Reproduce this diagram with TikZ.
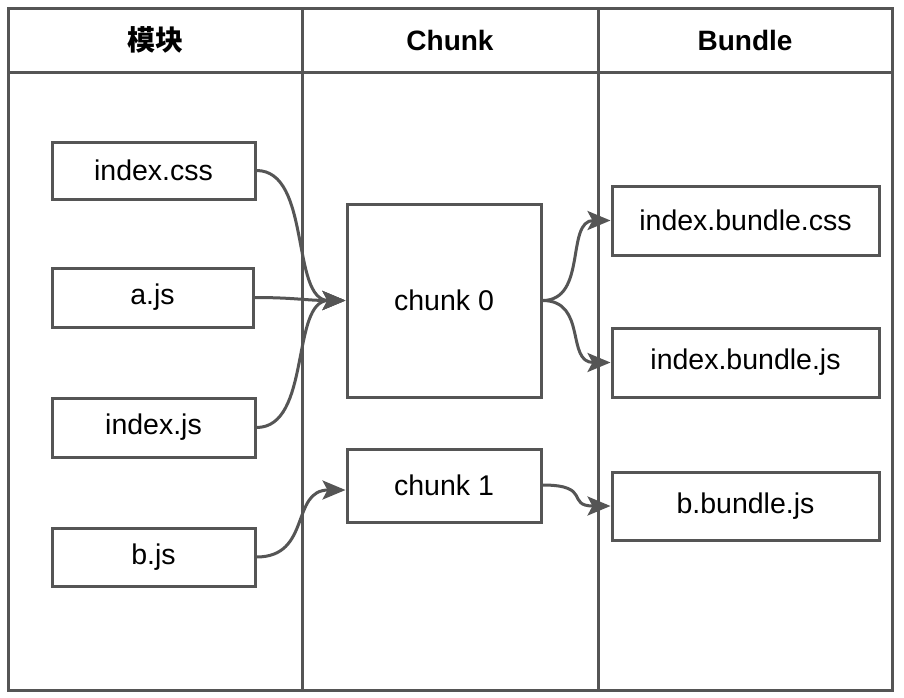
\documentclass[tikz,border=0pt]{standalone}
\usepackage{fontspec}
\setmainfont{Liberation Sans}
\newfontfamily\cjk{Noto Sans CJK SC}
\usetikzlibrary{arrows.meta}
\definecolor{ln}{HTML}{555555}
\begin{document}
\begin{tikzpicture}[x=1pt,y=-1pt,
  every node/.style={font=\fontsize{28.5}{33}\selectfont},
  box/.style={draw=ln,line width=3pt,fill=white,inner sep=0pt,minimum width=#1},
  box/.default=203pt,
  hdr/.style={font=\fontsize{28}{32}\selectfont\bfseries},
  conn/.style={draw=ln,line width=3pt,-{Stealth[length=23pt,width=19pt,inset=5pt]}}]
\useasboundingbox (0,0) rectangle (904,697);
\fill[white] (0,0) rectangle (904,697);
\draw[ln,line width=3pt] (8,8) rectangle (892,690);
\draw[ln,line width=3pt] (8,72) -- (892,72);
\draw[ln,line width=3pt] (302,8) -- (302,690);
\draw[ln,line width=3pt] (598,8) -- (598,690);
\node[hdr] (h1) at (155,40) {\cjk\bfseries 模块};
\node[hdr] (h2) at (450,40) {Chunk};
\node[hdr] (h3) at (745,40) {Bundle};
\node[box,minimum height=57pt] (css) at (153.5,170.5) {index.css};
\node[box=201pt,minimum height=59pt] (ajs) at (152.5,297.5) {a.js};
\node[box,minimum height=59pt] (ijs) at (153.5,427.5) {index.js};
\node[box,minimum height=58pt] (bjs) at (153.5,557) {b.js};
\node[box=194pt,minimum height=193pt] (c0) at (444,300.5) {chunk 0};
\node[box=194pt,minimum height=73pt,anchor=north] (c1) at (444,448) {};
\node (c1t) at (444,485) {chunk 1};
\node[box=267pt,minimum height=69pt] (bcss) at (745.5,220.5) {index.bundle.css};
\node[box=267pt,minimum height=69pt] (bijs) at (745.5,362.5) {index.bundle.js};
\node[box=267pt,minimum height=68pt] (bbjs) at (745.5,506) {b.bundle.js};
\draw[conn] (css.east) .. controls +(55,0) and +(-55,0) .. (c0.west);
\draw[conn] (ajs.east) .. controls +(40,0) and +(-40,0) .. (c0.west);
\draw[conn] (ijs.east) .. controls +(55,0) and +(-55,0) .. (c0.west);
\draw[conn] (bjs.east) .. controls +(55,0) and +(-55,0) .. ([yshift=-4pt]c1.west);
\draw[conn] (c0.east) .. controls +(45,0) and +(-45,0) .. (bcss.west);
\draw[conn] (c0.east) .. controls +(45,0) and +(-45,0) .. (bijs.west);
\draw[conn] (c1.east |- c1t) .. controls +(50,0) and +(-45,0) .. (bbjs.west);
\end{tikzpicture}
\end{document}
